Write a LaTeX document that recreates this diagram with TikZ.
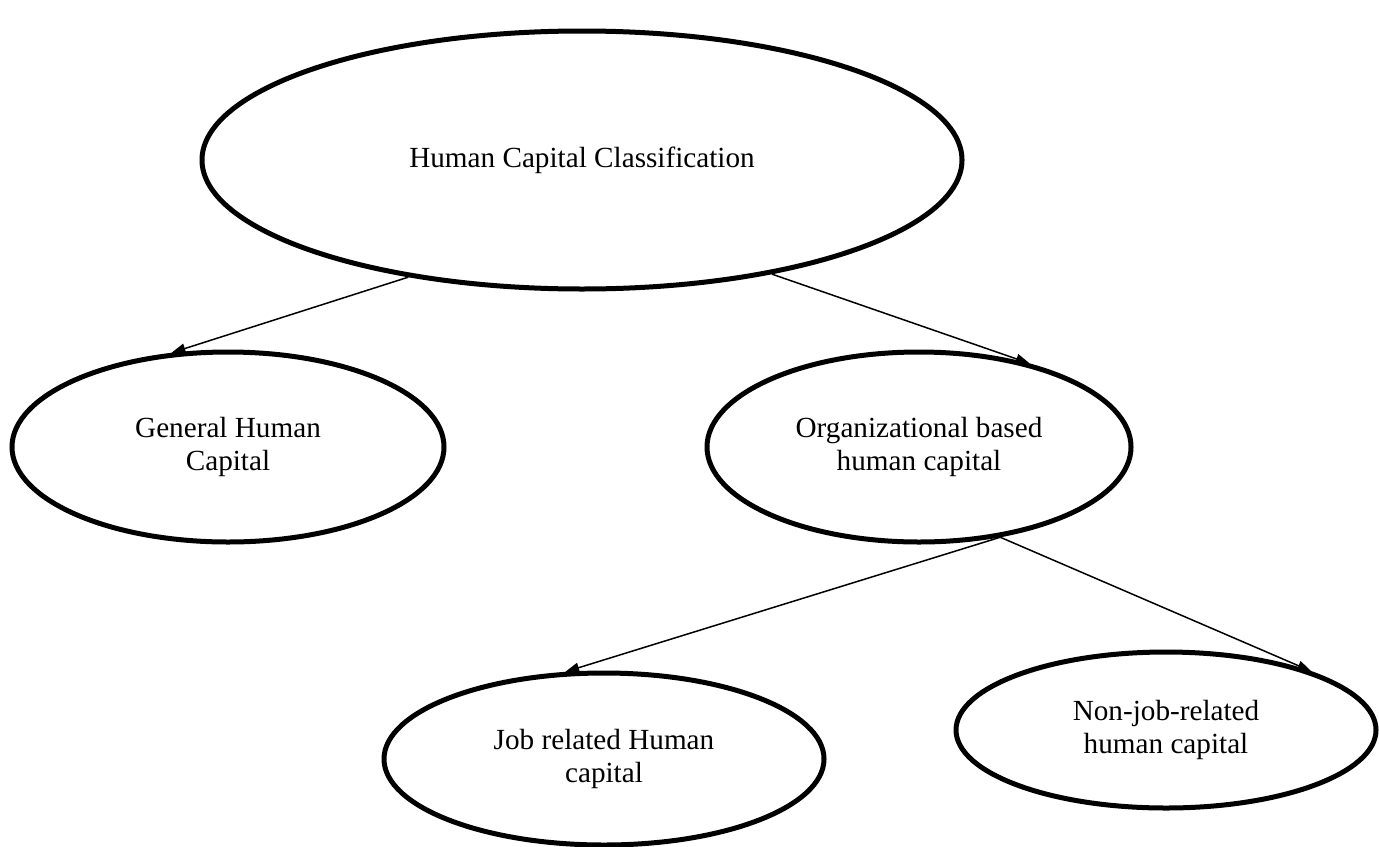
\documentclass[tikz,border=0pt]{standalone}
\usepackage{fontspec}
\setmainfont{Liberation Serif}
\usetikzlibrary{shapes.geometric,arrows.meta}
\begin{document}
\begin{tikzpicture}[x=0.5pt,y=-0.5pt,
  oval/.style={ellipse,draw=black,line width=2.5pt,inner sep=0pt,
    align=center,font=\fontsize{14.6}{16.8}\selectfont},
  link/.style={line width=0.75pt,-{Triangle[length=7pt,width=5pt]}}]
  \useasboundingbox (0,0) rectangle (1379,846);
  \node[oval,minimum width=380pt,minimum height=129pt] (hcc) at (582,160)
    {Human Capital Classification};
  \node[oval,minimum width=216pt,minimum height=95pt] (ghc) at (228,447)
    {General Human\\Capital};
  \node[oval,minimum width=212pt,minimum height=95pt] (obhc) at (919,447)
    {Organizational based\\human capital};
  \node[oval,minimum width=220pt,minimum height=86pt] (jrhc) at (604,759)
    {Job related Human\\capital};
  \node[oval,minimum width=210pt,minimum height=78pt] (njhc) at (1166,730)
    {Non-job-related\\human capital};
  \draw[link] (hcc.214) -- (ghc.121);
  \draw[link] (hcc.329) -- (obhc.37);
  \draw[link] (obhc.312) -- (jrhc.114);
  \draw[link] (obhc.312) -- (njhc.22);
\end{tikzpicture}
\end{document}
